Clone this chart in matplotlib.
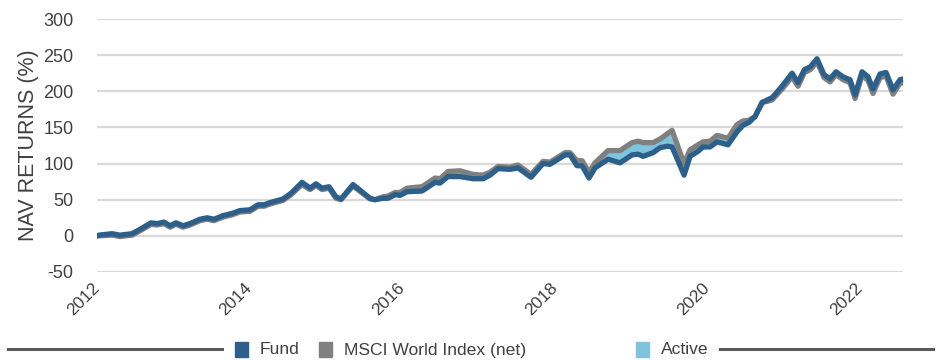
import matplotlib
matplotlib.use("Agg")
import matplotlib.pyplot as plt
from matplotlib.patches import Rectangle
from matplotlib.lines import Line2D

plt.rcParams['font.family'] = ['Liberation Sans', 'DejaVu Sans']

# cumulative NAV returns (%), sampled at turning points
years = [
    2012.000, 2012.026, 2012.197, 2012.301, 2012.459, 2012.564, 2012.708, 2012.786, 2012.878, 2012.957,
    2013.035, 2013.127, 2013.219, 2013.350, 2013.442, 2013.533, 2013.651, 2013.769, 2013.874, 2014.005,
    2014.110, 2014.189, 2014.267, 2014.438, 2014.543, 2014.687, 2014.792, 2014.870, 2014.949, 2015.041,
    2015.132, 2015.198, 2015.355, 2015.578, 2015.643, 2015.748, 2015.814, 2015.906, 2015.971, 2016.063,
    2016.260, 2016.430, 2016.495, 2016.600, 2016.757, 2016.928, 2017.059, 2017.151, 2017.256, 2017.413,
    2017.518, 2017.688, 2017.845, 2017.937, 2018.134, 2018.199, 2018.291, 2018.357, 2018.448, 2018.527,
    2018.697, 2018.855, 2019.012, 2019.091, 2019.157, 2019.288, 2019.379, 2019.471, 2019.537, 2019.694,
    2019.772, 2019.877, 2019.942, 2020.034, 2020.126, 2020.270, 2020.388, 2020.467, 2020.545, 2020.624,
    2020.716, 2020.781, 2020.847, 2020.978, 2021.109, 2021.187, 2021.271, 2021.350, 2021.436, 2021.528,
    2021.607, 2021.685, 2021.777, 2021.869, 2021.935, 2022.026, 2022.105, 2022.170, 2022.262, 2022.341,
    2022.432, 2022.524, 2022.563,
]
fund = [
    0, 1, 3, 1, 3, 9, 18, 17, 19, 14,
    18, 14, 17, 23, 25, 23, 28, 31, 35, 36,
    43, 43, 46, 51, 59, 74, 66, 72, 66, 68,
    54, 51, 71, 52, 50, 52, 52, 57, 56, 61,
    62, 74, 73, 82, 82, 79, 79, 84, 93, 92,
    94, 81, 100, 99, 112, 112, 97, 97, 80, 94,
    106, 101, 112, 113, 110, 115, 122, 124, 123, 84,
    110, 117, 123, 123, 130, 126, 144, 153, 157, 165,
    184, 188, 191, 207, 225, 212, 230, 234, 245, 223,
    217, 227, 220, 216, 195, 227, 220, 203, 224, 226,
    202, 216, 217,
]
msci = [
    0, 0, 1, -1, 1, 7, 16, 15, 17, 12,
    16, 12, 15, 21, 23, 21, 26, 29, 33, 34,
    41, 41, 44, 49, 57, 71, 64, 70, 64, 66,
    52, 50, 69, 51, 50, 54, 55, 60, 60, 66,
    68, 80, 79, 89, 90, 85, 84, 88, 96, 95,
    98, 85, 103, 102, 115, 115, 104, 104, 88, 101,
    118, 118, 129, 131, 129, 129, 134, 141, 146, 100,
    119, 126, 130, 131, 139, 135, 154, 159, 160, 165,
    185, 186, 188, 203, 220, 207, 226, 230, 241, 219,
    213, 223, 216, 212, 190, 222, 215, 197, 219, 221,
    196, 211, 212,
]

y_ticks = [-50, 0, 50, 100, 150, 200, 250, 300]
x_ticks = [2012, 2014, 2016, 2018, 2020, 2022]

legend_labels = ['Fund', 'MSCI World Index (net)', 'Active']

FUND_BLUE = '#2c5f8a'
INDEX_GREY = '#808080'
ACTIVE_BLUE = '#7fc3dc'
TEXT = '#404040'

fig = plt.figure(figsize=(9.37, 3.6), dpi=100)
ax = fig.add_axes([97 / 937, 1 - 272 / 360, 806 / 937, 253 / 360])

ax.fill_between(years, fund, msci, color=ACTIVE_BLUE, lw=0, zorder=2)
ax.plot(years, msci, color=INDEX_GREY, lw=3.8, solid_joinstyle='round', solid_capstyle='round', zorder=3)
ax.plot(years, fund, color=FUND_BLUE, lw=3.8, solid_joinstyle='round', solid_capstyle='round', zorder=4)

ax.set_xlim(years[0], years[-1])
ax.set_ylim(-50, 300)
ax.set_yticks(y_ticks)
ax.set_yticklabels([str(v) for v in y_ticks], fontsize=13, color=TEXT)
ax.set_xticks(x_ticks)
ax.set_xticklabels([str(v) for v in x_ticks], rotation=45, ha='right', va='center',
                   rotation_mode='anchor', fontsize=12.5, color=TEXT)
ax.tick_params(axis='both', length=0)
ax.tick_params(axis='y', pad=17)
ax.tick_params(axis='x', pad=10)
ax.grid(axis='y', color='#d9d9d9', lw=1.6, zorder=0)
ax.set_axisbelow(True)
for spine in ax.spines.values():
    spine.set_visible(False)

ax.set_ylabel('NAV RETURNS (%)', fontsize=15.5, color=TEXT, labelpad=3)

# legend row with rules on either side
colors = [FUND_BLUE, INDEX_GREY, ACTIVE_BLUE]
box_x = [235, 319, 636]
W, H = 937, 360
for label, color, x in zip(legend_labels, colors, box_x):
    fig.add_artist(Rectangle((x / W, 1 - 357 / H), 13 / W, 15 / H, color=color,
                             transform=fig.transFigure))
    fig.text((x + 25) / W, 1 - 350 / H, label, fontsize=12.6, color=TEXT,
             ha='left', va='center')
for x0, x1 in [(8, 222), (720, 933)]:
    fig.add_artist(Line2D([x0 / W, x1 / W], [1 - 349 / H, 1 - 349 / H], color='#595959',
                          lw=2.2, transform=fig.transFigure))

fig.savefig('out.png', dpi=100)
